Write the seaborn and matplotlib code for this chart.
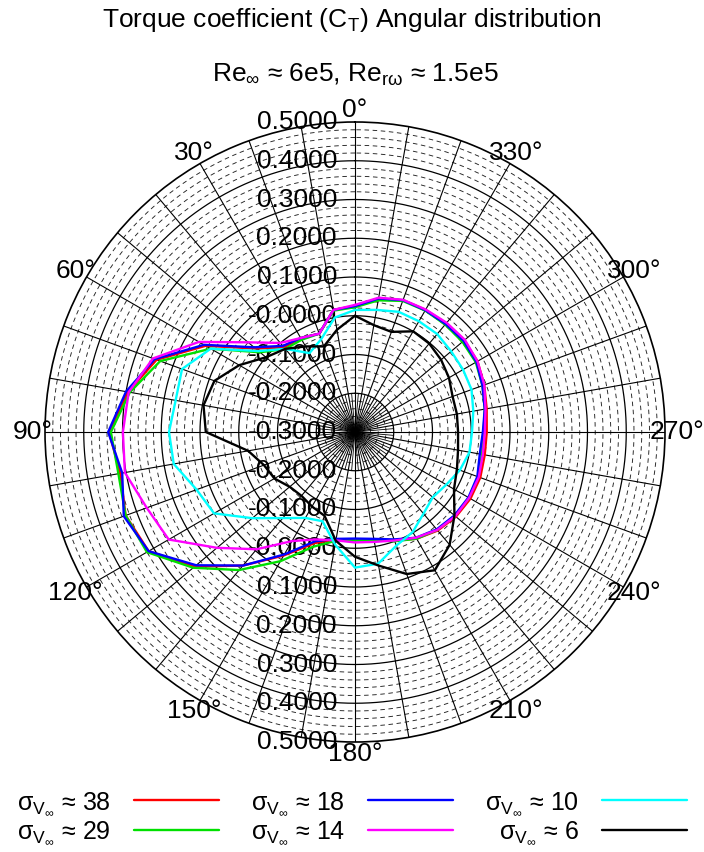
import numpy as np
import pandas as pd
import matplotlib
matplotlib.use('Agg')
import matplotlib.pyplot as plt
import seaborn as sns

angles_deg = list(range(0, 360, 10))

ct_38 = [0.025, 0.020, -0.030, -0.020, -0.015, 0.035, 0.145, 0.245, 0.295, 0.335,
         0.315, 0.330, 0.315, 0.240, 0.150, 0.068, 0.005, -0.018, -0.022, -0.018,
         -0.002, 0.018, 0.032, 0.040, 0.044, 0.044, 0.040, 0.040, 0.045, 0.055,
         0.065, 0.068, 0.066, 0.064, 0.062, 0.048]
ct_29 = [0.022, 0.018, -0.030, -0.025, -0.020, 0.020, 0.130, 0.235, 0.290, 0.330,
         0.320, 0.330, 0.320, 0.245, 0.165, 0.085, 0.015, -0.015, -0.020, -0.016,
         0.000, 0.018, 0.030, 0.036, 0.040, 0.038, 0.033, 0.032, 0.040, 0.050,
         0.060, 0.062, 0.062, 0.062, 0.060, 0.045]
ct_18 = [0.025, 0.020, -0.030, -0.020, -0.010, 0.040, 0.150, 0.250, 0.300, 0.337,
         0.310, 0.335, 0.315, 0.235, 0.150, 0.065, 0.000, -0.020, -0.025, -0.020,
         -0.005, 0.015, 0.028, 0.035, 0.038, 0.036, 0.027, 0.030, 0.040, 0.050,
         0.062, 0.066, 0.064, 0.063, 0.062, 0.050]
ct_14 = [0.028, 0.020, -0.030, -0.020, 0.000, 0.060, 0.165, 0.255, 0.293, 0.299,
         0.303, 0.272, 0.255, 0.165, 0.095, 0.025, -0.005, -0.016, -0.015, -0.012,
         -0.002, 0.015, 0.030, 0.038, 0.040, 0.040, 0.035, 0.035, 0.042, 0.055,
         0.065, 0.070, 0.068, 0.065, 0.063, 0.052]
ct_10 = [0.015, 0.000, -0.045, -0.065, -0.020, 0.025, 0.130, 0.175, 0.170, 0.180,
         0.175, 0.135, 0.120, 0.046, -0.010, -0.044, -0.055, -0.005, 0.050, 0.045,
         0.012, -0.002, -0.025, -0.038, -0.028, -0.012, 0.000, 0.002, 0.010, 0.020,
         0.022, 0.024, 0.030, 0.030, 0.030, 0.020]
ct_6 = [0.000, -0.032, -0.065, -0.045, -0.020, 0.000, 0.045, 0.086, 0.097, 0.085,
        -0.020, -0.050, -0.060, -0.080, -0.085, -0.078, -0.070, -0.015, 0.022, 0.050,
        0.090, 0.112, 0.080, 0.035, -0.005, -0.020, -0.030, -0.034, -0.033, -0.032,
        -0.020, -0.010, -0.002, 0.000, -0.025, -0.020]

sigma_labels = [r'$\mathrm{\sigma_{V_{\infty}}}$ ≈ 38', r'$\mathrm{\sigma_{V_{\infty}}}$ ≈ 29',
                r'$\mathrm{\sigma_{V_{\infty}}}$ ≈ 18', r'$\mathrm{\sigma_{V_{\infty}}}$ ≈ 14',
                r'$\mathrm{\sigma_{V_{\infty}}}$ ≈ 10', r'$\mathrm{\sigma_{V_{\infty}}}$ ≈ 6']
all_ct = [ct_38, ct_29, ct_18, ct_14, ct_10, ct_6]
colors = ['#ff0000', '#00e000', '#0000ff', '#ff00ff', '#00ffff', '#000000']

r_ticks = [-0.3, -0.2, -0.1, 0.0, 0.1, 0.2, 0.3, 0.4, 0.5]
r_tick_labels = ['-0.3000', '-0.2000', '-0.1000', '-0.0000', '0.1000', '0.2000',
                 '0.3000', '0.4000', '0.5000']
theta_ticks = list(range(0, 360, 30))

sns.set_style('white')
plt.rcParams['font.family'] = ['Liberation Sans', 'DejaVu Sans']
plt.rcParams['text.color'] = 'black'
plt.rcParams['mathtext.fontset'] = 'custom'
plt.rcParams['mathtext.rm'] = 'Liberation Sans'
plt.rcParams['mathtext.it'] = 'Liberation Sans:italic'
plt.rcParams['mathtext.sf'] = 'Liberation Sans'

# long table, each curve closed back onto its first point
rows = []
for name, vals in zip(sigma_labels, all_ct):
    for a, v in zip(angles_deg + [360], vals + [vals[0]]):
        rows.append({'theta': np.deg2rad(a), 'ct': v, 'case': name})
df = pd.DataFrame(rows)

fig = plt.figure(figsize=(7.04, 8.52), dpi=100)
ax = fig.add_axes([45 / 704, 110 / 852, 620 / 704, 620 / 852], projection='polar')
ax.set_theta_zero_location('N')
ax.set_theta_direction(1)
ax.set_ylim(-0.3, 0.5)
ax.grid(False)
ax.set_xticks([])
ax.set_yticks([])
ax.spines['polar'].set_linewidth(1.2)
ax.spines['polar'].set_color('black')

# polar grid: solid every 0.1, dashed every 0.02, spokes every 10 deg
circ = np.linspace(0, 2 * np.pi, 721)
for k in range(-14, 25):
    if k % 5 == 0:
        ax.plot(circ, np.full_like(circ, k * 0.02), color='black', lw=0.9, zorder=1)
    else:
        ax.plot(circ, np.full_like(circ, k * 0.02), color='#222222', lw=0.65,
                ls=(0, (5, 4)), zorder=1)
for a in range(0, 360, 10):
    ax.plot([np.deg2rad(a)] * 2, [-0.3, 0.5], color='black', lw=0.8, zorder=1)
for a in range(5, 360, 10):
    ax.plot([np.deg2rad(a)] * 2, [-0.3, -0.2], color='black', lw=0.6, zorder=1)

for r, lab in zip(r_ticks, r_tick_labels):
    ax.annotate(lab, xy=(0, r), xytext=(-13, 0), textcoords='offset points',
                ha='right', va='center', fontsize=19, color='black', zorder=2)
    if r > -0.3:
        ax.annotate(lab, xy=(np.pi, r), xytext=(-13, 0), textcoords='offset points',
                    ha='right', va='center', fontsize=19, color='black', zorder=2)
for a in theta_ticks:
    ax.text(np.deg2rad(a), 0.532, f'{a}°', ha='center', va='center', fontsize=19,
            color='black', clip_on=False)

sns.lineplot(data=df, x='theta', y='ct', hue='case', palette=colors, sort=False,
             estimator=None, lw=1.7, ax=ax, zorder=3)
ax.set_xlabel('')
ax.set_ylabel('')
handles, labels = ax.get_legend_handles_labels()
ax.get_legend().remove()

fig.legend(handles, labels, loc='center', bbox_to_anchor=(0.5, 1 - 818 / 852), ncol=3,
           markerfirst=False, frameon=False, fontsize=18, handlelength=3.4,
           handletextpad=0.9, columnspacing=1.3, labelspacing=0.1)

fig.text(0.5, 1 - 20 / 852, r'Torque coefficient (C$_\mathrm{T}$) Angular distribution',
         ha='center', va='center', fontsize=19, color='black')
fig.text(0.505, 1 - 75 / 852, r'Re$_\infty$ ≈ 6e5, Re$_{\mathrm{r\omega}}$ ≈ 1.5e5',
         ha='center', va='center', fontsize=19, color='black')

fig.savefig('out.png', dpi=100)
